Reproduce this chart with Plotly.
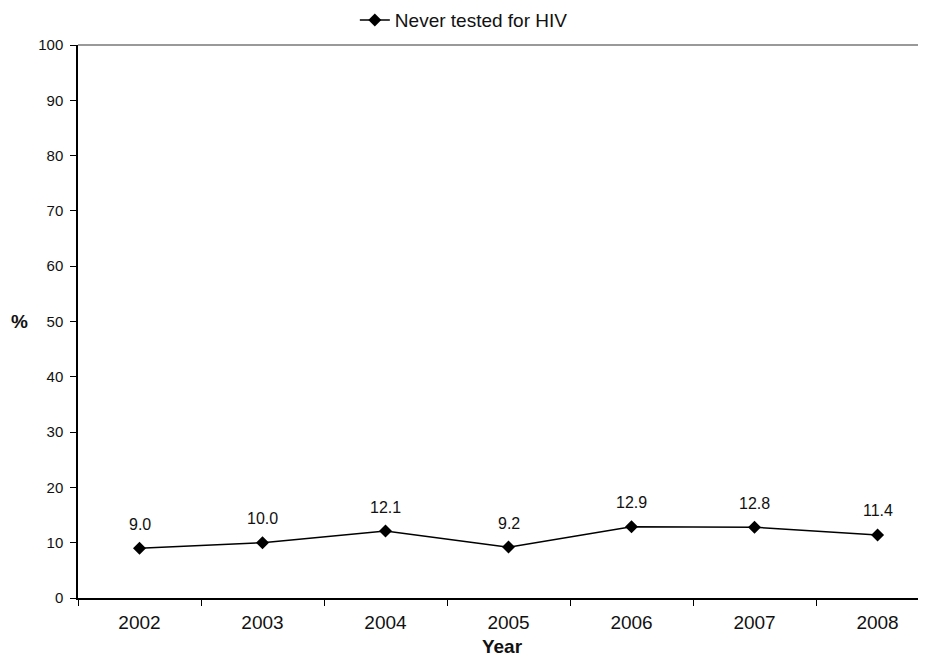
import plotly.graph_objects as go

years = ["2002", "2003", "2004", "2005", "2006", "2007", "2008"]
never_tested = [9.0, 10.0, 12.1, 9.2, 12.9, 12.8, 11.4]
labels = ["9.0", "10.0", "12.1", "9.2", "12.9", "12.8", "11.4"]
y_ticks = [0, 10, 20, 30, 40, 50, 60, 70, 80, 90, 100]

xpos = list(range(len(years)))
FONT = "Liberation Sans, Arial"

fig = go.Figure()
fig.add_trace(go.Scatter(
    x=xpos, y=never_tested, mode="lines+markers",
    name="Never tested for HIV",
    line=dict(color="black", width=1.5),
    marker=dict(symbol="diamond", size=10, color="black"),
    cliponaxis=False,
))

for xi, yi, lab in zip(xpos, never_tested, labels):
    fig.add_annotation(x=xi, y=yi, text=lab, showarrow=False, yshift=24,
                       xanchor="center", yanchor="middle",
                       font=dict(size=16, color="#111", family=FONT))

fig.update_layout(
    width=918, height=649,
    margin=dict(l=70, r=0, t=37, b=59, autoexpand=False),
    paper_bgcolor="white", plot_bgcolor="white",
    font=dict(family=FONT, size=15, color="#111"),
    showlegend=True,
    legend=dict(orientation="h", x=0.455, xref="paper", xanchor="center",
                y=1.045, yanchor="middle",
                font=dict(size=19), bgcolor="rgba(0,0,0,0)"),
    xaxis=dict(
        range=[-0.5, 6.394], tickmode="array", tickvals=xpos, ticktext=years,
        ticks="", showgrid=False, zeroline=False,
        showline=True, linecolor="black", linewidth=1.5,
        tickfont=dict(size=19), ticklabelstandoff=6,
        minor=dict(tickmode="array", tickvals=[i - 0.5 for i in range(8)], ticks="outside",
                   ticklen=6, tickcolor="black", tickwidth=1, showgrid=False),
        title=dict(text="<b>Year</b>", font=dict(size=19), standoff=10),
    ),
    yaxis=dict(
        range=[0, 100], tickmode="array", tickvals=y_ticks,
        ticks="outside", ticklen=6, tickcolor="black", tickwidth=1,
        showgrid=False, zeroline=False,
        showline=True, linecolor="black", linewidth=1.5,
        tickfont=dict(size=15), ticklabelstandoff=4,
    ),
)

fig.add_shape(type="line", xref="paper", yref="paper", x0=0, x1=1, y0=1, y1=1,
              line=dict(color="#777", width=1.5))
fig.add_annotation(text="<b>%</b>", xref="paper", yref="paper", x=-0.0684, y=0.5,
                   xanchor="center", yanchor="middle", showarrow=False,
                   font=dict(size=19, family=FONT))

fig.write_html("out.html")
